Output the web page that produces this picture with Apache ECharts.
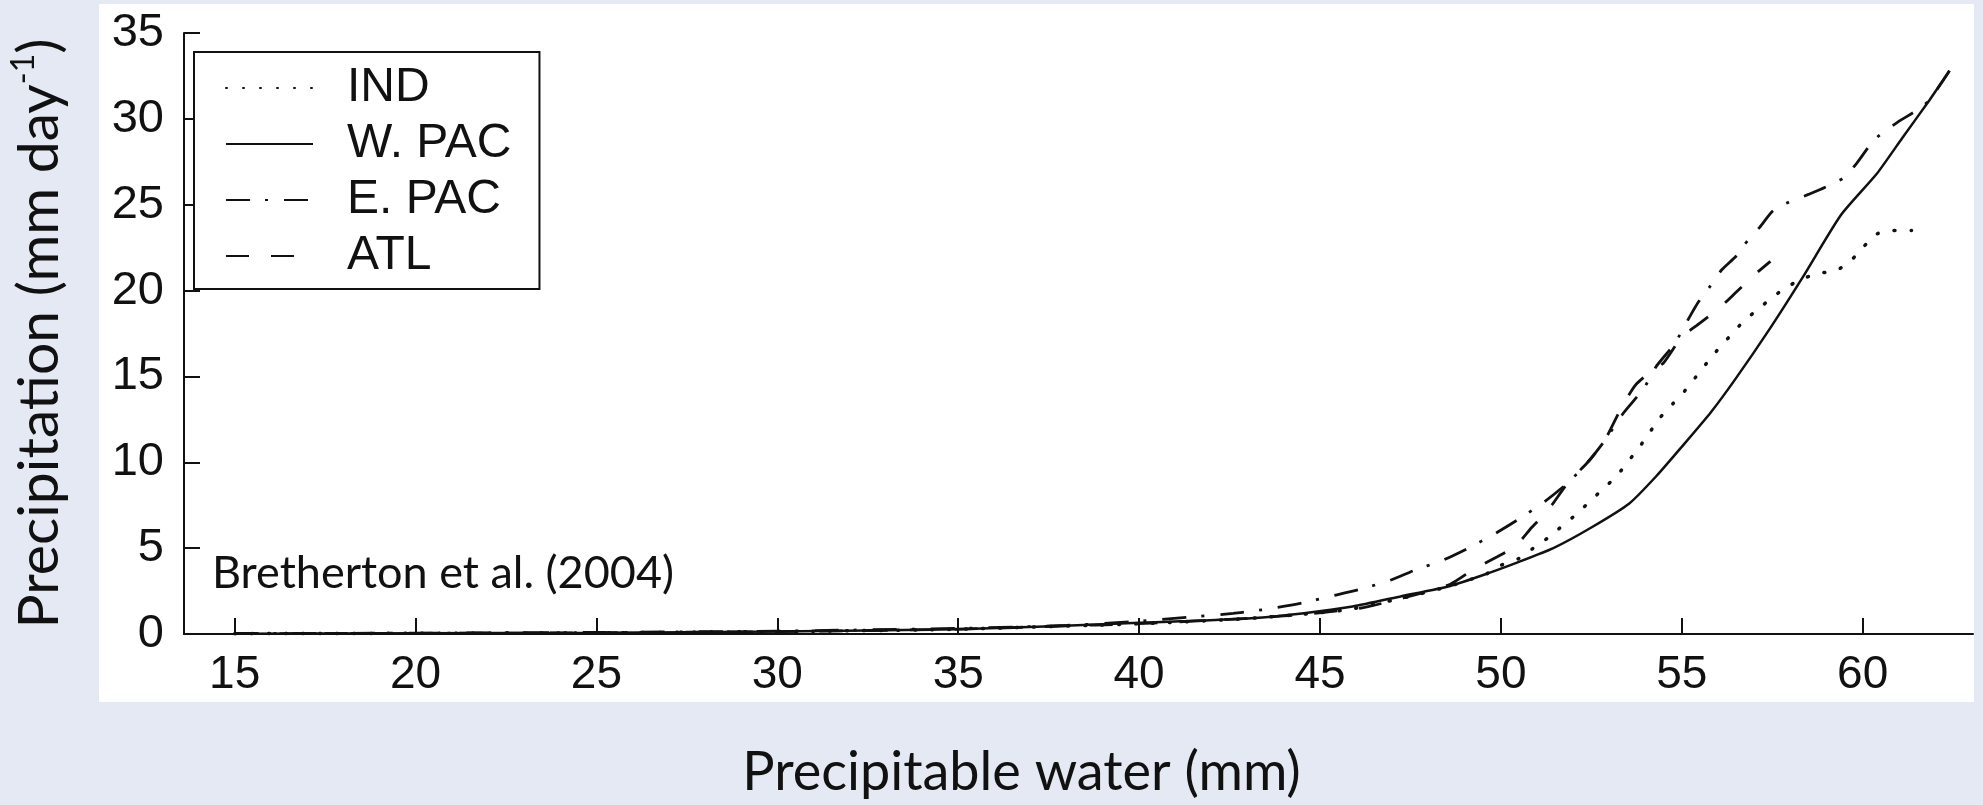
<!DOCTYPE html>
<html>
<head>
<meta charset="utf-8">
<title>Precipitation vs precipitable water</title>
<script src="https://cdn.jsdelivr.net/npm/echarts@6/dist/echarts.min.js"></script>
<style>
  html, body { margin: 0; padding: 0; background: #e5e9f3; }
  #chart { width: 1983px; height: 805px; }
</style>
</head>
<body>
<div id="chart"></div>
<script>
// tick labels
const xTicks = [15, 20, 25, 30, 35, 40, 45, 50, 55, 60];
const yTicks = [0, 5, 10, 15, 20, 25, 30, 35];

// [precipitable water (mm), precipitation (mm/day)]
const indData = [
  [15, 0.02], [20, 0.04], [25, 0.07], [30, 0.14], [35, 0.28], [40, 0.6],
  [43, 0.9], [45.7, 1.4], [47.5, 2.2], [48.6, 2.8], [49.6, 3.5], [50.0, 4.0],
  [50.5, 4.4], [50.9, 5.0], [51.3, 5.6], [51.7, 6.3], [52.1, 7.0], [52.45, 7.7],
  [52.8, 8.4], [53.2, 9.2], [53.5, 10.0], [53.8, 10.8], [54.1, 11.7], [54.4, 12.6],
  [54.75, 13.4], [55.1, 14.2], [55.4, 15.0], [55.7, 15.8], [56.05, 16.7], [56.4, 17.5],
  [56.7, 18.2], [57.1, 18.9], [57.5, 19.6], [57.9, 20.2], [58.35, 20.7], [58.8, 21.0],
  [59.3, 21.2], [59.7, 21.8], [60.0, 22.5], [60.4, 23.3], [60.8, 23.5], [61.35, 23.5]
];
const wpacData = [
  [15, 0.02], [20, 0.04], [25, 0.07], [30, 0.14], [35, 0.28], [37.6, 0.45],
  [40, 0.65], [41.3, 0.75], [43.1, 0.92], [44.5, 1.2], [45.9, 1.6], [47.25, 2.2],
  [48.6, 2.8], [49.6, 3.5], [50.5, 4.2], [51.45, 5.0], [52.5, 6.2], [53.55, 7.6],
  [54.3, 9.2], [55.0, 10.9], [55.8, 12.9], [56.5, 14.9], [57.44, 17.8], [58.35, 20.8],
  [59.4, 24.4], [60.39, 26.8], [61.1, 28.9], [61.85, 31.1], [62.4, 32.8]
];
const epacData = [
  [15, 0.03], [20, 0.05], [25, 0.09], [30, 0.17], [35, 0.33], [38, 0.5],
  [40, 0.75], [42.6, 1.2], [43.7, 1.5], [44.5, 1.8], [45.3, 2.2], [46.1, 2.6],
  [46.9, 3.1], [47.6, 3.7], [48.4, 4.3], [49.1, 5.0], [49.8, 5.8], [50.5, 6.7],
  [51.2, 7.7], [51.85, 8.8], [52.4, 10.0], [52.85, 11.2], [53.4, 12.9], [53.95, 14.3],
  [54.3, 15.6], [54.8, 16.9], [55.2, 18.4], [55.45, 19.3], [55.8, 20.3], [56.1, 21.2],
  [56.5, 22.0], [56.7, 22.6], [57.16, 23.7], [57.5, 24.6], [57.8, 25.0], [58.5, 25.6],
  [58.95, 26.0], [59.5, 26.6], [59.83, 27.4], [60.33, 28.8], [60.96, 29.8], [61.5, 30.5],
  [61.85, 31.1], [62.4, 32.8]
];
const atlData = [
  [15, 0.02], [20, 0.04], [25, 0.07], [30, 0.14], [35, 0.28], [37.6, 0.45],
  [40, 0.6], [42, 0.8], [44, 1.05], [46.1, 1.5], [47.3, 2.1], [48.6, 2.9],
  [49.2, 3.7], [49.9, 4.5], [50.4, 5.1], [50.85, 6.2], [51.3, 7.2], [51.85, 8.8],
  [52.4, 10.0], [52.85, 11.2], [53.36, 13.3], [53.72, 14.5], [54.1, 15.2], [54.5, 15.8],
  [55.0, 17.3], [55.5, 18.1], [56.1, 19.1], [56.5, 19.9], [57.0, 20.9], [57.45, 21.7]
];

const ink = "#111";
const tickFont = "'Liberation Sans', Arial, sans-serif";
const titleFont = "Lato, 'Open Sans', sans-serif";

function lineSeries(name, data, type, width, cap) {
  return {
    name: name,
    type: "line",
    data: data,
    symbol: "none",
    smooth: 0.2,
    itemStyle: { color: ink },
    lineStyle: { color: ink, width: width, type: type, cap: cap || "butt" }
  };
}

const chart = echarts.init(document.getElementById("chart"));

chart.setOption({
  backgroundColor: "transparent",
  animation: false,
  grid: { left: 178, top: 33, width: 1795, height: 601 },
  graphic: [
    // white sheet of the scanned figure
    {
      type: "rect",
      z: -10,
      shape: { x: 99, y: 4, width: 1875, height: 698 },
      style: { fill: "#fff" }
    },
    {
      type: "text",
      left: 212,
      top: 551,
      style: {
        text: "Bretherton et al. (2004)",
        font: "45px " + titleFont,
        fill: ink
      }
    }
  ],
  legend: {
    left: 194,
    top: 52,
    orient: "vertical",
    padding: [12, 28, 9, 31],
    itemGap: 8,
    itemWidth: 87,
    itemHeight: 14,
    borderColor: ink,
    borderWidth: 2,
    borderRadius: 0,
    backgroundColor: "#fff",
    selectedMode: false,
    itemStyle: { color: "transparent", borderWidth: 0 },
    data: ["IND", "W. PAC", "E. PAC", "ATL"],
    textStyle: {
      fontFamily: tickFont,
      fontSize: 48,
      color: ink,
      padding: [0, 0, 0, 29]
    }
  },
  xAxis: {
    type: "value",
    min: 13.6,
    max: 63.05,
    name: "Precipitable water (mm)",
    nameLocation: "middle",
    nameGap: 112,
    nameTextStyle: {
      fontFamily: titleFont,
      fontSize: 54,
      color: ink,
      padding: [0, 114, 0, 0]
    },
    splitLine: { show: false },
    axisLine: { lineStyle: { color: ink, width: 2 } },
    axisTick: {
      inside: true,
      length: 16,
      customValues: xTicks,
      lineStyle: { color: ink, width: 2 }
    },
    axisLabel: {
      customValues: xTicks,
      margin: 18,
      fontFamily: tickFont,
      fontSize: 46,
      color: ink
    }
  },
  yAxis: {
    type: "value",
    min: 0,
    max: 35,
    interval: 5,
    name: "Precipitation (mm day{sup|-1})",
    nameLocation: "middle",
    nameGap: 112,
    nameRotate: 90,
    nameTextStyle: {
      fontFamily: titleFont,
      fontSize: 57,
      color: ink,
      lineHeight: 64,
      rich: {
        sup: { fontFamily: titleFont, fontSize: 32, lineHeight: 64, verticalAlign: "top", padding: [0, 0, 28, 0] }
      }
    },
    splitLine: { show: false },
    axisLine: { lineStyle: { color: ink, width: 2 } },
    axisTick: { inside: true, length: 16, lineStyle: { color: ink, width: 2 } },
    axisLabel: {
      margin: 20,
      fontFamily: tickFont,
      fontSize: 47,
      color: ink,
      customValues: yTicks
    }
  },
  series: [
    lineSeries("IND", indData, [1, 16], 3.5, "round"),
    lineSeries("W. PAC", wpacData, "solid", 2.5),
    lineSeries("E. PAC", epacData, [24, 15, 3, 16], 2.8),
    lineSeries("ATL", atlData, [23, 22], 2.8)
  ]
});
</script>
</body>
</html>
